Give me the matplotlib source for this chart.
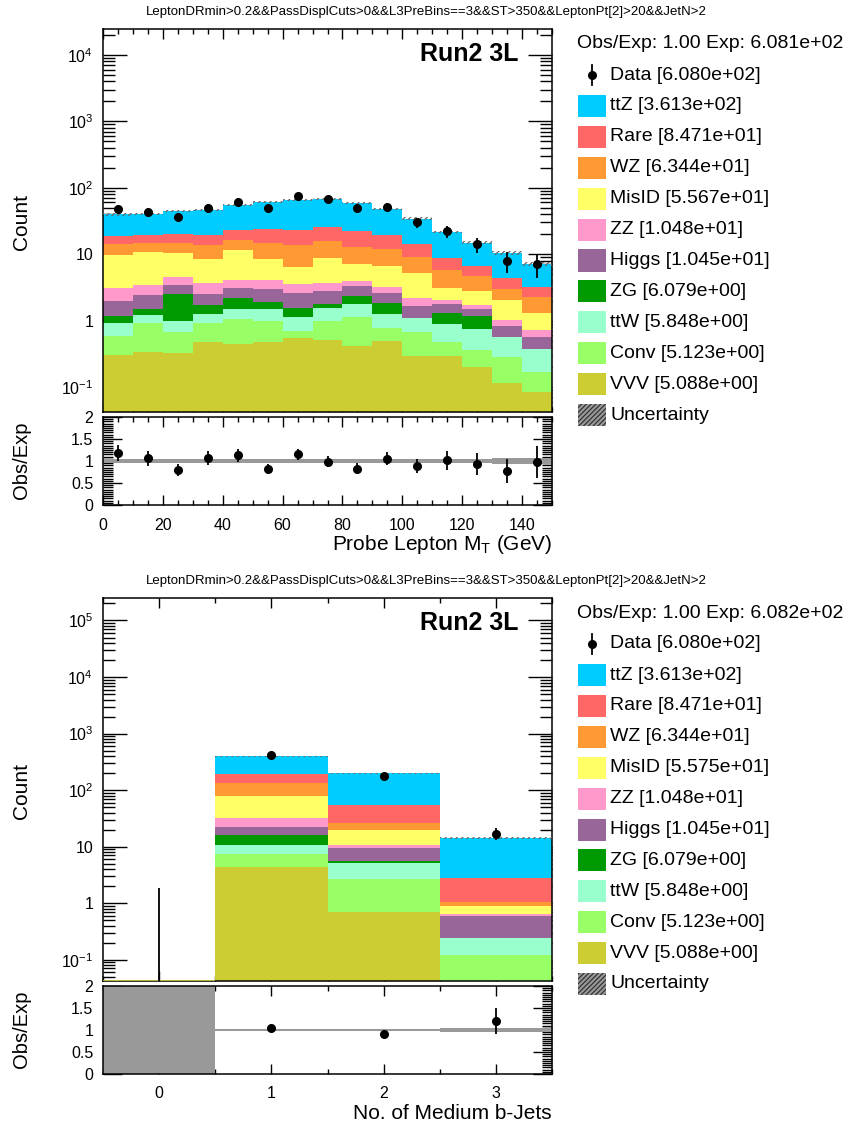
import numpy as np
import matplotlib
matplotlib.use('Agg')
import matplotlib.pyplot as plt
from matplotlib.patches import Rectangle
from matplotlib.lines import Line2D
from matplotlib.ticker import MultipleLocator, FuncFormatter, NullFormatter, FixedLocator

plt.rcParams['font.family'] = ['Liberation Sans', 'DejaVu Sans']
plt.rcParams['mathtext.fontset'] = 'custom'
plt.rcParams['mathtext.rm'] = 'Liberation Sans'
plt.rcParams['mathtext.it'] = 'Liberation Sans:italic'
plt.rcParams['mathtext.bf'] = 'Liberation Sans:bold'
plt.rcParams['hatch.linewidth'] = 0.9

cut_title = "LeptonDRmin>0.2&&PassDisplCuts>0&&L3PreBins==3&&ST>350&&LeptonPt[2]>20&&JetN>2"

# stack order, bottom to top
processes = ['VVV', 'Conv', 'ttW', 'ZG', 'Higgs', 'ZZ', 'MisID', 'WZ', 'Rare', 'ttZ']
colors = ['#CCCC33', '#99FF66', '#99FFCC', '#009900', '#996699',
          '#FF99CC', '#FFFF66', '#FF9933', '#FF6666', '#00CCFF']

# ---- panel 1: probe lepton MT (15 bins, 0-150 GeV)
mt_edges = np.arange(0, 151, 10)
mt_data = [47, 43, 36, 50, 61, 49, 74, 67, 49, 51, 30, 22, 14, 8, 7]
mt_vvv = [0.30, 0.34, 0.33, 0.48, 0.45, 0.48, 0.55, 0.51, 0.42, 0.49, 0.29, 0.29, 0.20, 0.113, 0.083]
mt_conv = [0.29, 0.58, 0.34, 0.44, 0.59, 0.51, 0.15, 0.49, 0.71, 0.27, 0.38, 0.19, 0.16, 0.167, 0.083]
mt_ttw = [0.34, 0.29, 0.32, 0.35, 0.44, 0.49, 0.45, 0.53, 0.64, 0.51, 0.41, 0.40, 0.38, 0.28, 0.21]
mt_zg = [0.24, 0.28, 1.52, 0.44, 0.70, 0.42, 0.38, 0.24, 0.60, 0.57, 0.0, 0.42, 0.43, 0.0, 0.0]
mt_higgs = [0.80, 0.93, 0.91, 0.83, 0.87, 1.04, 1.03, 1.01, 0.97, 0.75, 0.59, 0.45, 0.31, 0.27, 0.19]
mt_zz = [1.08, 1.00, 1.09, 1.08, 1.01, 1.08, 0.98, 0.84, 0.63, 0.60, 0.49, 0.29, 0.23, 0.19, 0.16]
mt_misid = [6.59, 7.18, 5.89, 4.78, 7.44, 4.38, 2.83, 5.17, 3.09, 3.40, 2.96, 1.01, 1.07, 1.02, 0.57]
mt_wz = [4.46, 4.2, 4.4, 5.2, 4.7, 6.5, 7.2, 6.8, 5.8, 5.5, 3.9, 2.69, 1.89, 0.90, 0.96]
mt_rare = [4.7, 4.9, 5.6, 6.1, 7.2, 8.8, 9.5, 10.3, 9.4, 7.6, 5.1, 3.05, 1.92, 1.42, 0.93]
mt_ttz = [20.9, 20.9, 24.7, 27.0, 30.8, 36.4, 41.3, 42.3, 37.1, 28.6, 20.1, 12.8, 8.3, 6.0, 3.95]
mt_unc = [0.04, 0.04, 0.04, 0.04, 0.035, 0.035, 0.035, 0.035, 0.04, 0.04, 0.045, 0.05, 0.055, 0.06, 0.07]
mt_legend_totals = [5.088, 5.123, 5.848, 6.079, 10.45, 10.48, 55.67, 63.44, 84.71, 361.3]
mt_legend_data, mt_legend_exp = 608.0, 608.1

# ---- panel 2: number of medium b-jets (0..3)
bj_edges = np.arange(-0.5, 4.0, 1.0)
bj_data = [0, 410, 181, 17]
bj_vvv = [0, 4.40, 0.69, 0]
bj_conv = [0, 3.05, 1.95, 0.12]
bj_ttw = [0, 3.22, 2.51, 0.12]
bj_zg = [0, 5.63, 0.45, 0]
bj_higgs = [0, 6.1, 4.0, 0.35]
bj_zz = [0, 9.3, 1.12, 0.06]
bj_misid = [0, 46.4, 9.1, 0.25]
bj_wz = [0, 56.9, 6.4, 0.14]
bj_rare = [0, 55.6, 27.4, 1.7]
bj_ttz = [0, 205, 145, 11.3]
bj_unc = [0, 0.015, 0.015, 0.04]
bj_legend_totals = [5.088, 5.123, 5.848, 6.079, 10.45, 10.48, 55.75, 63.44, 84.71, 361.3]
bj_legend_data, bj_legend_exp = 608.0, 608.2

W, H = 847, 1128
fig = plt.figure(figsize=(W / 100, H / 100), dpi=100)


def px_axes(left, top, right, bottom):
    return fig.add_axes([left / W, 1 - bottom / H, (right - left) / W, (bottom - top) / H])


def log_label(v, pos):
    k = int(round(np.log10(v)))
    if k == 0:
        return '1'
    if k == 1:
        return '10'
    return r'$\mathregular{10^{%d}}$' % k


def style(ax):
    for s in ax.spines.values():
        s.set_linewidth(1.1)
    ax.tick_params(which='both', direction='in', top=True, right=True, labelsize=11.5, width=1.0)


def draw_panel(top, edges, stack, data, unc, ymin, ymax, xlabel, xmajor, xminor, xticklabels=None):
    ax = px_axes(103, top, 552, top + 383)
    rax = px_axes(103, top + 388, 552, top + 476)
    centers = 0.5 * (edges[:-1] + edges[1:])
    widths = np.diff(edges)
    bottom = np.zeros(len(centers))
    for vals, c in zip(stack, colors):
        vals = np.array(vals)
        ax.bar(centers, vals, widths, bottom=bottom, color=c, linewidth=0, zorder=2)
        bottom = bottom + vals
    total = bottom
    unc = np.array(unc)
    # stat uncertainty on the stack
    ax.bar(centers, 2 * unc * total, widths, bottom=total * (1 - unc), facecolor='none',
           edgecolor='#666666', hatch='//////', linewidth=0, zorder=3)
    # empty bins: stack outline lies on the axis floor
    for xc, wd in zip(centers[total == 0], widths[total == 0]):
        ax.hlines(ymin * 1.01, xc - wd / 2, xc + wd / 2, color=colors[0], linewidth=1.2, zorder=3)

    data = np.array(data, dtype=float)
    err = np.sqrt(data)
    has = data > 0
    ax.errorbar(centers[has], data[has], yerr=err[has], fmt='o', color='black',
                markersize=5.5, elinewidth=1.3, capsize=0, zorder=5)
    # empty bin: Garwood upper limit for zero observed events
    for xc in centers[~has]:
        ax.vlines(xc, 1e-3, 1.841, color='black', linewidth=1.3, zorder=5)

    ax.set_yscale('log')
    ax.set_ylim(ymin, ymax)
    ax.set_xlim(edges[0], edges[-1])
    kmin, kmax = int(np.ceil(np.log10(ymin))), int(np.floor(np.log10(ymax)))
    majors = 10.0 ** np.arange(kmin, kmax + 1)
    minors = [m * 10.0 ** k for k in range(kmin - 1, kmax + 1) for m in range(2, 10)]
    minors = [v for v in minors if ymin < v < ymax]
    ax.yaxis.set_major_locator(FixedLocator(majors))
    ax.yaxis.set_minor_locator(FixedLocator(minors))
    ax.yaxis.set_major_formatter(FuncFormatter(log_label))
    ax.yaxis.set_minor_formatter(NullFormatter())
    ax.xaxis.set_major_locator(xmajor)
    ax.xaxis.set_minor_locator(xminor)
    ax.tick_params(axis='x', labelbottom=False)
    style(ax)
    ax.tick_params(axis='y', which='major', length=17, pad=7)
    ax.tick_params(axis='y', which='minor', length=8.5)
    ax.tick_params(axis='x', which='major', length=7)
    ax.tick_params(axis='x', which='minor', length=3.5)
    ax.text(0.925, 0.935, 'Run2 3L', transform=ax.transAxes, ha='right', va='center',
            fontsize=18, fontweight='bold')

    # ratio panel
    lo = np.where(total > 0, 1 - unc, 0.0)
    hi = np.where(total > 0, 1 + unc, 2.0)
    rax.plot([edges[0], edges[-1]], [1, 1], color='#bbbbbb', linewidth=1.5, zorder=1)
    rax.bar(centers, hi - lo, widths, bottom=lo, color='#999999', linewidth=0, zorder=2)
    ok = has & (total > 0)
    rax.errorbar(centers[ok], data[ok] / total[ok], yerr=err[ok] / total[ok], fmt='o',
                 color='black', markersize=5.5, elinewidth=1.3, capsize=0, zorder=5)
    rax.set_xlim(edges[0], edges[-1])
    rax.set_ylim(0, 2)
    rax.yaxis.set_major_locator(MultipleLocator(0.5))
    rax.yaxis.set_minor_locator(MultipleLocator(0.05))
    rax.yaxis.set_major_formatter(FuncFormatter(lambda v, p: '%g' % v))
    rax.xaxis.set_major_locator(xmajor)
    rax.xaxis.set_minor_locator(xminor)
    if xticklabels is not None:
        rax.set_xticklabels(xticklabels)
    style(rax)
    rax.tick_params(axis='y', which='major', length=14, pad=7)
    rax.tick_params(axis='y', which='minor', length=7)
    rax.tick_params(axis='x', which='major', length=7, pad=9)
    rax.tick_params(axis='x', which='minor', length=3.5)

    fig.text(552 / W, 1 - (top + 521) / H, xlabel, ha='right', va='baseline', fontsize=15)
    fig.text(22 / W, 1 - (top + 193) / H, 'Count', rotation=90, ha='center', va='center', fontsize=15)
    fig.text(22 / W, 1 - (top + 431) / H, 'Obs/Exp', rotation=90, ha='center', va='center', fontsize=14.5)
    fig.text(426 / W, 1 - (top - 17) / H, cut_title, ha='center', va='center', fontsize=9.5)


def draw_legend(top, totals, data_total, exp_total):
    fig.text(577 / W, 1 - (top + 15) / H, 'Obs/Exp: %.2f Exp: %.3e' % (data_total / exp_total, exp_total),
             ha='left', va='center', fontsize=14)
    y = top + 46
    fig.add_artist(Line2D([592 / W, 592 / W], [1 - (y - 10) / H, 1 - (y + 10) / H], color='black', lw=1.3))
    fig.add_artist(Line2D([592 / W], [1 - y / H], marker='o', color='black', markersize=5.5))
    fig.text(610 / W, 1 - y / H, 'Data [%.3e]' % data_total, ha='left', va='center', fontsize=14)
    entries = list(zip(processes, colors, totals))[::-1]
    for i, (name, c, tot) in enumerate(entries):
        y = top + 77 + 30.9 * i
        fig.add_artist(Rectangle((578 / W, 1 - (y + 11) / H), 28 / W, 22 / H, facecolor=c,
                                 edgecolor='none', transform=fig.transFigure))
        fig.text(610 / W, 1 - y / H, '%s [%.3e]' % (name, tot), ha='left', va='center', fontsize=14)
    y = top + 77 + 30.9 * len(entries)
    fig.add_artist(Rectangle((578 / W, 1 - (y + 11) / H), 28 / W, 22 / H, facecolor='#9a9a9a',
                             edgecolor='#333333', hatch='///////', linewidth=0, transform=fig.transFigure))
    fig.text(610 / W, 1 - y / H, 'Uncertainty', ha='left', va='center', fontsize=14)


mt_stack = [mt_vvv, mt_conv, mt_ttw, mt_zg, mt_higgs, mt_zz, mt_misid, mt_wz, mt_rare, mt_ttz]
bj_stack = [bj_vvv, bj_conv, bj_ttw, bj_zg, bj_higgs, bj_zz, bj_misid, bj_wz, bj_rare, bj_ttz]

draw_panel(29, mt_edges.astype(float), mt_stack, mt_data, mt_unc, 0.042, 2.45e4,
           r'Probe Lepton M$_{\mathregular{T}}$ (GeV)', MultipleLocator(20), MultipleLocator(5))
draw_legend(29, mt_legend_totals, mt_legend_data, mt_legend_exp)

draw_panel(598, bj_edges, bj_stack, bj_data, bj_unc, 0.042, 2.5e5,
           'No. of Medium b-Jets', FixedLocator([0, 1, 2, 3]), MultipleLocator(0.5),
           xticklabels=['0', '1', '2', '3'])
draw_legend(598, bj_legend_totals, bj_legend_data, bj_legend_exp)

fig.savefig('out.png', dpi=100)
